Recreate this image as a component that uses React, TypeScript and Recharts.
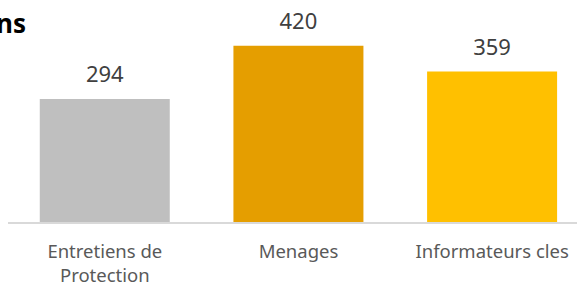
import React from 'react';
import { BarChart, Bar, XAxis, YAxis, Cell, LabelList, Text } from 'recharts';

const categories = ['Entretiens de Protection', 'Menages', 'Informateurs cles'];
const values = [294, 420, 359];
const colors = ['#BFBFBF', '#E59E00', '#FFC000'];
const title = "Nombre d'entretiens";

const data = categories.map((name, i) => ({ name, value: values[i] }));

const FONT = '"Noto Sans", "Open Sans", sans-serif';

const Tick = (props: any) => {
  const { x, y, payload } = props;
  return (
    <Text
      x={x}
      y={y + 22}
      width={170}
      maxLines={2}
      textAnchor="middle"
      verticalAnchor="start"
      lineHeight={24}
      fill="#595959"
      style={{ fontFamily: FONT, fontSize: 18.5 }}
    >
      {payload.value}
    </Text>
  );
};

export default function App() {
  return (
    <div style={{ position: 'absolute', left: 0, top: 0, width: 577, height: 284, overflow: 'hidden', background: '#fff' }}>
      <BarChart
        width={600}
        height={284}
        data={data}
        margin={{ top: 12, right: 11, bottom: 0, left: 8 }}
        barCategoryGap="16.4%"
      >
        <text x={26} y={33} textAnchor="end" fill="#000" style={{ fontFamily: FONT, fontSize: 26, fontWeight: 700 }}>
          {title}
        </text>
        <YAxis hide domain={[0, 500]} />
        <XAxis
          dataKey="name"
          height={61}
          tickLine={false}
          tickSize={0}
          tickMargin={0}
          interval={0}
          axisLine={{ stroke: '#D9D9D9', strokeWidth: 2 }}
          tick={<Tick />}
        />
        <Bar dataKey="value" isAnimationActive={false}>
          {data.map((d, i) => (
            <Cell key={d.name} fill={colors[i]} />
          ))}
          <LabelList
            dataKey="value"
            position="top"
            offset={17}
            fill="#404040"
            style={{ fontFamily: FONT, fontSize: 22 }}
          />
        </Bar>
      </BarChart>
    </div>
  );
}
